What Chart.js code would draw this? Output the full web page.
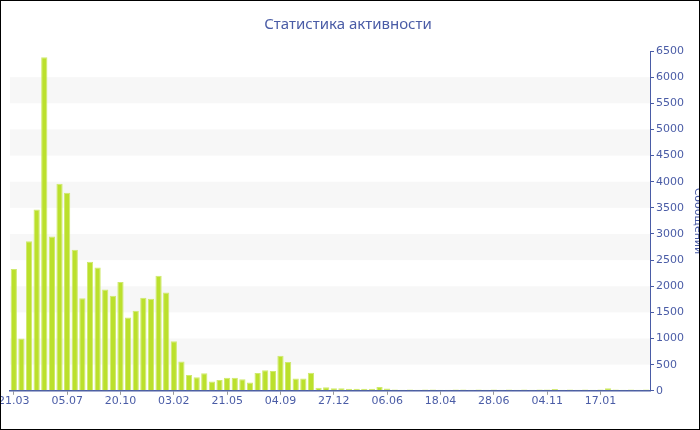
<!DOCTYPE html>
<html>
<head>
<meta charset="utf-8">
<script src="https://cdn.jsdelivr.net/npm/chart.js@4"></script>
<style>
html, body { margin: 0; padding: 0; overflow: hidden; background: #fff; }
#wrap { position: relative; width: 700px; height: 430px; overflow: hidden; }
#grafico { position: absolute; left: -14px; top: 0; }
#marco { position: absolute; left: 0; top: 0; width: 700px; height: 430px; box-sizing: border-box; border: 1px solid #000; pointer-events: none; }
</style>
</head>
<body>
<div id="wrap">
  <canvas id="grafico" width="724" height="430"></canvas>
  <div id="marco"></div>
</div>
<script>
// подписи оси X, одна на каждый 7-й столбец
const tickLabels = ['21.03', '05.07', '20.10', '03.02', '21.05', '04.09', '27.12', '06.06', '18.04', '28.06', '04.11', '17.01'];

// сообщений за период
const messages = [
    2330, 1000, 2860, 3470, 6380, 2950, 3960, 3790, 2700, 1770,
    2470, 2360, 1940, 1820, 2080, 1400, 1530, 1780, 1760, 2200,
    1880, 950, 560, 300, 260, 335, 180, 205, 250, 250,
    220, 160, 340, 395, 380, 670, 550, 235, 235, 345,
    58, 70, 50, 50, 38, 38, 38, 38, 75, 42,
    24, 22, 24, 21, 23, 24, 22, 21, 24, 23,
    22, 24, 21, 23, 22, 24, 21, 23, 22, 24,
    23, 34, 22, 24, 21, 23, 22, 24, 48, 23,
    22, 24, 21, 23
];

const categories = messages.map((_, i) => i % 7 === 0 ? tickLabels[i / 7] : '');

const azul = '#4a5ca6';

const bandas = {
    id: 'bandas',
    beforeDraw(chart) {
        const { ctx, chartArea, scales } = chart;
        const y = scales.y;
        ctx.save();
        ctx.fillStyle = '#f7f7f7';
        for (let v = 500; v < 6500; v += 1000) {
            const top = y.getPixelForValue(v + 500);
            const bottom = y.getPixelForValue(v);
            ctx.fillRect(chartArea.left, top, chartArea.right - chartArea.left, bottom - top);
        }
        ctx.restore();
    }
};

new Chart(document.getElementById('grafico'), {
    type: 'bar',
    data: {
        labels: categories,
        datasets: [{
            label: 'Сообщений',
            data: messages,
            backgroundColor: '#bbe02c',
            borderColor: '#cfea6e',
            borderWidth: 1,
            borderSkipped: 'bottom',
            barPercentage: 0.82,
            categoryPercentage: 1
        }]
    },
    options: {
        responsive: false,
        animation: false,
        devicePixelRatio: 1,
        layout: { padding: { left: 0, right: 0, top: 0, bottom: 22 } },
        plugins: {
            legend: { display: false },
            tooltip: { enabled: false },
            title: {
                display: true,
                text: 'Статистика активности',
                color: azul,
                font: { family: 'Noto Sans', size: 15, weight: 'normal' },
                padding: { top: 16, bottom: 17 }
            }
        },
        scales: {
            x: {
                afterFit(scale) { scale.paddingLeft = 24; scale.paddingRight = 0; },
                grid: {
                    offset: false,
                    drawOnChartArea: false,
                    tickLength: 4,
                    color: c => c.index % 7 === 0 ? '#9a9a9a' : 'rgba(0,0,0,0)',
                    tickColor: c => c.index % 7 === 0 ? '#9a9a9a' : 'rgba(0,0,0,0)'
                },
                border: { display: true, color: azul, width: 1.5 },
                ticks: {
                    autoSkip: false,
                    maxRotation: 0,
                    padding: 0,
                    color: azul,
                    font: { family: 'DejaVu Sans', size: 11 }
                }
            },
            y: {
                position: 'right',
                min: 0,
                max: 6500,
                afterFit(scale) { scale.width = 60; },
                grid: {
                    drawOnChartArea: false,
                    tickLength: 4,
                    color: azul
                },
                border: { display: true, color: azul, width: 1 },
                ticks: {
                    stepSize: 250,
                    padding: 2,
                    color: azul,
                    font: { family: 'DejaVu Sans', size: 11 },
                    callback: v => v % 500 === 0 ? String(v) : ''
                },
                title: {
                    display: true,
                    text: 'Сообщений',
                    color: azul,
                    font: { family: 'DejaVu Sans', size: 11 },
                    padding: { top: 6, bottom: 0 }
                }
            }
        }
    },
    plugins: [bandas]
});
</script>
</body>
</html>
